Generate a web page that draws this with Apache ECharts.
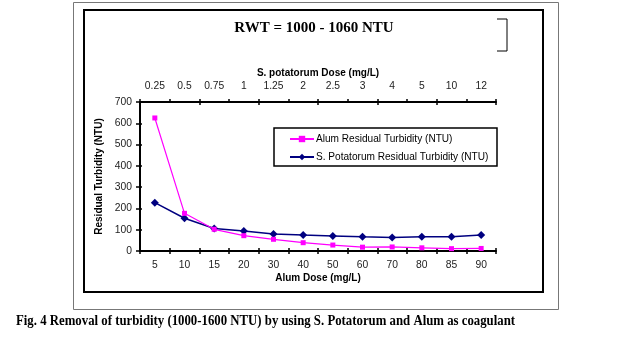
<!DOCTYPE html>
<html>
<head>
<meta charset="utf-8">
<script src="https://cdn.jsdelivr.net/npm/echarts@6/dist/echarts.min.js"></script>
<style>
  html, body { margin: 0; padding: 0; background: #fff; }
  #chart { width: 621px; height: 346px; }
</style>
</head>
<body>
<div id="chart"></div>
<script>
// Alum dose categories (bottom axis) and matching S. potatorum doses (top axis)
const alumDose = ['5', '10', '15', '20', '30', '40', '50', '60', '70', '80', '85', '90'];
const potatorumDose = ['0.25', '0.5', '0.75', '1', '1.25', '2', '2.5', '3', '4', '5', '10', '12'];

// Residual turbidity (NTU)
const alumResidual = [625, 177, 102, 72, 55, 39, 28, 18, 19, 15, 11, 12];
const potatorumResidual = [227, 154, 106, 94, 80, 75, 71, 67, 64, 67, 67, 75];

const yTicks = { min: 0, max: 700, step: 100 };

const sans = 'Liberation Sans, Arial, sans-serif';
const serif = 'Liberation Serif, Times New Roman, serif';

const chart = echarts.init(document.getElementById('chart'), null, { renderer: 'canvas' });

const axisLine = { show: true, lineStyle: { color: '#000', width: 2 } };
const tickStyle = { color: '#000', width: 1.5 };
const labelStyle = { fontFamily: sans, fontSize: 10.3, color: '#222' };
const nameStyle = { fontFamily: sans, fontSize: 10, fontWeight: 'bold', color: '#000' };

chart.setOption({
  backgroundColor: '#fff',
  animation: false,
  grid: { left: 140, right: 125, top: 102, bottom: 95, containLabel: false },
  legend: {
    orient: 'vertical',
    left: 289,
    top: 134,
    itemGap: 8,
    itemWidth: 24,
    itemHeight: 8,
    padding: 0,
    textStyle: { fontFamily: sans, fontSize: 10.1, color: '#000', padding: [0, 0, 0, -3] },
    data: ['Alum Residual Turbidity (NTU)', 'S. Potatorum Residual Turbidity (NTU)']
  },
  xAxis: [
    {
      type: 'category',
      position: 'bottom',
      data: alumDose,
      boundaryGap: true,
      axisLine: axisLine,
      axisTick: { show: true, length: 3, lineStyle: tickStyle },
      axisLabel: Object.assign({ margin: 9 }, labelStyle),
      name: 'Alum Dose (mg/L)',
      nameLocation: 'middle',
      nameGap: 22,
      nameTextStyle: nameStyle
    },
    {
      type: 'category',
      position: 'bottom',
      data: alumDose,
      boundaryGap: true,
      axisLine: { show: false },
      axisTick: { show: true, inside: true, length: 3, lineStyle: tickStyle },
      axisLabel: { show: false }
    },
    {
      type: 'category',
      position: 'top',
      data: potatorumDose,
      boundaryGap: true,
      axisLine: axisLine,
      axisTick: { show: true, length: 3, lineStyle: tickStyle },
      axisLabel: Object.assign({ margin: 11 }, labelStyle),
      name: 'S. potatorum Dose (mg/L)',
      nameLocation: 'middle',
      nameGap: 24,
      nameTextStyle: nameStyle
    },
    {
      type: 'category',
      position: 'top',
      data: potatorumDose,
      boundaryGap: true,
      axisLine: { show: false },
      axisTick: { show: true, inside: true, length: 3, lineStyle: tickStyle },
      axisLabel: { show: false }
    }
  ],
  yAxis: [
    {
      type: 'value',
      min: yTicks.min,
      max: yTicks.max,
      interval: yTicks.step,
      axisLine: axisLine,
      axisTick: { show: true, length: 4, lineStyle: tickStyle },
      axisLabel: Object.assign({ margin: 8 }, labelStyle),
      splitLine: { show: false },
      name: 'Residual Turbidity (NTU)',
      nameLocation: 'middle',
      nameGap: 31,
      nameTextStyle: nameStyle
    },
    {
      type: 'value',
      position: 'left',
      min: yTicks.min,
      max: yTicks.max,
      interval: yTicks.step,
      axisLine: { show: false },
      axisTick: { show: true, inside: true, length: 2, lineStyle: tickStyle },
      axisLabel: { show: false },
      splitLine: { show: false }
    }
  ],
  series: [
    {
      name: 'Alum Residual Turbidity (NTU)',
      type: 'line',
      xAxisIndex: 0,
      yAxisIndex: 0,
      data: alumResidual,
      symbol: 'rect',
      symbolSize: 5,
      lineStyle: { color: '#FF00FF', width: 1.2 },
      itemStyle: { color: '#FF00FF' },
      z: 3
    },
    {
      name: 'S. Potatorum Residual Turbidity (NTU)',
      type: 'line',
      xAxisIndex: 0,
      yAxisIndex: 0,
      data: potatorumResidual,
      symbol: 'diamond',
      symbolSize: 8,
      lineStyle: { color: '#000080', width: 1.5 },
      itemStyle: { color: '#000080' },
      z: 2
    }
  ],
  graphic: [
    // outer thin frame
    { type: 'rect', shape: { x: 73.5, y: 2.5, width: 485, height: 307 },
      style: { fill: 'none', stroke: '#777', lineWidth: 1 }, z: -1 },
    // inner heavy frame
    { type: 'rect', shape: { x: 84, y: 10, width: 459, height: 282 },
      style: { fill: 'none', stroke: '#000', lineWidth: 2 }, z: -1 },
    // bracket at upper right
    { type: 'polyline', shape: { points: [[497, 19], [507, 19], [507, 51], [497, 51]] },
      style: { fill: 'none', stroke: '#000', lineWidth: 1 } },
    // legend box
    { type: 'rect', shape: { x: 274, y: 128, width: 223, height: 38 },
      style: { fill: '#fff', stroke: '#000', lineWidth: 1.5 }, z: 0 },
    { type: 'text', x: 314, y: 21,
      style: { text: 'RWT = 1000 - 1060 NTU', font: 'bold 15px ' + serif, fill: '#000', textAlign: 'center' } },
    { type: 'text', x: 16, y: 314, scaleX: 0.914,
      style: { text: 'Fig. 4 Removal of turbidity (1000-1600 NTU) by using S. Potatorum and Alum as coagulant',
               font: 'bold 14px ' + serif, fill: '#000' } }
  ]
});
</script>
</body>
</html>
